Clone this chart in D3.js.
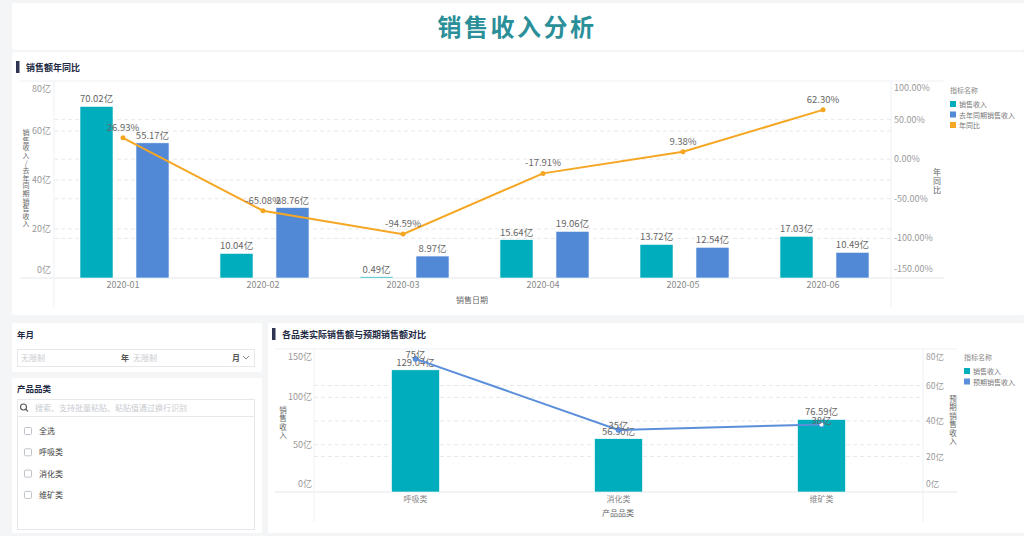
<!DOCTYPE html>
<html>
<head>
<meta charset="utf-8">
<script src="https://cdn.jsdelivr.net/npm/d3@7"></script>
<style>
  body{margin:0;background:#f3f5f7;font-family:"Noto Sans CJK SC","Noto Sans",sans-serif;}
  svg{display:block;}
</style>
</head>
<body>
<svg id="Vis" width="1024" height="536"></svg>
<script>
// top chart data
var months   = ["2020-01","2020-02","2020-03","2020-04","2020-05","2020-06"];
var sales    = [70.02, 10.04, 0.49, 15.64, 13.72, 17.03];
var lastYear = [55.17, 28.76, 8.97, 19.06, 12.54, 10.49];
var yoy      = [26.93, -65.08, -94.59, -17.91, 9.38, 62.30];
var leftTicks  = [0, 20, 40, 60, 80];
var rightTicks = [-150, -100, -50, 0, 50, 100];

// bottom chart data
var cats      = ["呼吸类","消化类","维矿类"];
var catSales  = [129.04, 56.30, 76.59];
var catPlan   = [75, 35, 38];
var catLeftTicks  = [0, 50, 100, 150];
var catRightTicks = [0, 20, 40, 60, 80];

var checkItems = ["全选","呼吸类","消化类","维矿类"];

var teal="#00adbc", blue="#5289d6", orange="#f5a623", lineBlue="#5b8fda";
var labelColor="#666", tickColor="#999", gridColor="#e9e9e9";

var svg = d3.select("#Vis");
var fmt2 = function(v){ return d3.format(".2f")(v).replace("\u2212","-"); };

// panels
function panel(x,y,w,h){
  svg.append("rect").attr("x",x).attr("y",y).attr("width",w).attr("height",h)
     .attr("rx",2).attr("fill","#fff");
}
panel(12,3,1012,47);
panel(12,52,1012,263);
panel(12,323,250,49);
panel(12,378,250,155);
panel(268,323,756,210);

svg.append("text").attr("x",517).attr("y",36).attr("text-anchor","middle")
   .attr("font-size",24).attr("font-weight","bold").attr("letter-spacing",2.5)
   .attr("fill","#2a8f98").text("销售收入分析");

function header(x,y,txt){
  svg.append("rect").attr("x",x).attr("y",y-6).attr("width",3.5).attr("height",12).attr("fill","#2e3552");
  svg.append("text").attr("x",x+10).attr("y",y+3.5).attr("font-size",9).attr("font-weight","bold")
     .attr("fill","#1f2a44").text(txt);
}
header(16,67,"销售额年同比");
header(272,334,"各品类实际销售额与预期销售额对比");

// vertical axis titles, one char under the other
function vertText(x,y0,txt,step,size){
  svg.append("text").attr("x",x).attr("y",y0).attr("font-size",size).attr("fill",labelColor)
     .style("writing-mode","vertical-rl").style("text-orientation","upright")
     .attr("letter-spacing",step-size).text(txt);
}

function legend(x,y,items){
  svg.append("text").attr("x",x).attr("y",y).attr("font-size",7).attr("fill","#888").text("指标名称");
  items.forEach(function(it,i){
    svg.append("rect").attr("x",x).attr("y",y+8+i*10.5).attr("width",6).attr("height",6).attr("fill",it[1]);
    svg.append("text").attr("x",x+9).attr("y",y+14+i*10.5).attr("font-size",7).attr("fill","#777").text(it[0]);
  });
}
function clampY(y,lo,hi){ return Math.max(lo,Math.min(hi,y)); }

// ===== top chart =====
var xTop = d3.scaleBand().domain(months).range([53,893]);
var xSub = d3.scaleBand().domain(["s","l"]).range([-43,46]).paddingInner(0.41);
var yL = d3.scaleLinear().domain([0,80]).range([278,82]);
var yR = d3.scaleLinear().domain([-150,100]).range([278,80]);
var gTop = svg.append("g");

// grid
[20,40,60].forEach(function(t){
  gTop.append("line").attr("x1",54).attr("x2",891).attr("y1",yL(t)).attr("y2",yL(t))
     .attr("stroke",gridColor).attr("stroke-dasharray","4,3");
});
[-100,-50,0,50].forEach(function(t){
  gTop.append("line").attr("x1",54).attr("x2",891).attr("y1",yR(t)).attr("y2",yR(t))
     .attr("stroke",gridColor).attr("stroke-dasharray","4,3");
});
gTop.append("line").attr("x1",20).attr("x2",944).attr("y1",81).attr("y2",81).attr("stroke","#eef0f2");
gTop.append("line").attr("x1",20).attr("x2",944).attr("y1",278).attr("y2",278).attr("stroke","#e4e8ec");
[54,891].forEach(function(x){
  gTop.append("line").attr("x1",x).attr("x2",x).attr("y1",81).attr("y2",307).attr("stroke","#eef0f2");
});

// tick labels (kept inside the plot area like the original)
leftTicks.forEach(function(t){
  gTop.append("text").attr("x",51).attr("y",clampY(yL(t),89,270)+3).attr("text-anchor","end")
     .attr("font-size",9).attr("fill",tickColor).text(t+"亿");
});
rightTicks.forEach(function(t){
  gTop.append("text").attr("x",894).attr("y",clampY(yR(t),88,269)+3)
     .attr("font-size",9).attr("fill",tickColor).text(fmt2(t)+"%");
});

var groups = gTop.selectAll("g.grp").data(months).enter().append("g")
   .attr("transform",function(d){ return "translate("+(xTop(d)+xTop.bandwidth()/2)+",0)"; });
groups.append("rect").attr("x",xSub("s")).attr("width",xSub.bandwidth())
   .attr("y",function(d,i){return yL(sales[i]);}).attr("height",function(d,i){return 278-yL(sales[i]);})
   .attr("fill",teal).attr("stroke","#fff").attr("stroke-width",0.6);
groups.append("rect").attr("x",xSub("l")).attr("width",xSub.bandwidth())
   .attr("y",function(d,i){return yL(lastYear[i]);}).attr("height",function(d,i){return 278-yL(lastYear[i]);})
   .attr("fill",blue).attr("stroke","#fff").attr("stroke-width",0.6);
groups.append("text").attr("x",xSub("s")+xSub.bandwidth()/2).attr("y",function(d,i){return yL(sales[i])-4;})
   .attr("text-anchor","middle").attr("font-size",9.5).attr("fill",labelColor)
   .text(function(d,i){return fmt2(sales[i])+"亿";});
groups.append("text").attr("x",xSub("l")+xSub.bandwidth()/2).attr("y",function(d,i){return yL(lastYear[i])-4;})
   .attr("text-anchor","middle").attr("font-size",9.5).attr("fill",labelColor)
   .text(function(d,i){return fmt2(lastYear[i])+"亿";});
groups.append("text").attr("y",288).attr("text-anchor","middle").attr("font-size",9)
   .attr("fill","#888").text(function(d){return d;});

var yoyLine = d3.line().x(function(d,i){return xTop(months[i])+xTop.bandwidth()/2;}).y(function(d){return yR(d);});
gTop.append("path").datum(yoy).attr("d",yoyLine).attr("fill","none").attr("stroke",orange).attr("stroke-width",2);
gTop.selectAll("circle.yoy").data(yoy).enter().append("circle")
   .attr("cx",function(d,i){return xTop(months[i])+xTop.bandwidth()/2;}).attr("cy",function(d){return yR(d);})
   .attr("r",2.5).attr("fill",orange);
gTop.selectAll("text.yoy").data(yoy).enter().append("text")
   .attr("x",function(d,i){return xTop(months[i])+xTop.bandwidth()/2;}).attr("y",function(d){return yR(d)-7;})
   .attr("text-anchor","middle").attr("font-size",9.5).attr("fill",labelColor)
   .text(function(d){return fmt2(d)+"%";});

gTop.append("text").attr("x",472).attr("y",303).attr("text-anchor","middle").attr("font-size",8)
   .attr("fill",labelColor).text("销售日期");
vertText(26,129,"销售收入/去年同期销售收入",7.6,7);
vertText(937,168,"年同比",9,8);
legend(950,93,[["销售收入",teal],["去年同期销售收入",blue],["年同比",orange]]);

// ===== bottom chart =====
var xB = d3.scaleBand().domain(cats).range([314,923]);
var barW = xB.step()*0.236;
var yBL = d3.scaleLinear().domain([0,150]).range([492,350]);
var yBR = d3.scaleLinear().domain([0,80]).range([492,350]);
var bot = svg.append("g");

[50,100].forEach(function(t){
  bot.append("line").attr("x1",314).attr("x2",923).attr("y1",yBL(t)).attr("y2",yBL(t))
     .attr("stroke",gridColor).attr("stroke-dasharray","4,3");
});
[20,40,60].forEach(function(t){
  bot.append("line").attr("x1",314).attr("x2",923).attr("y1",yBR(t)).attr("y2",yBR(t))
     .attr("stroke",gridColor).attr("stroke-dasharray","4,3");
});
bot.append("line").attr("x1",275).attr("x2",957).attr("y1",349).attr("y2",349).attr("stroke","#eef0f2");
bot.append("line").attr("x1",275).attr("x2",957).attr("y1",492).attr("y2",492).attr("stroke","#e4e8ec");
[314,923].forEach(function(x){
  bot.append("line").attr("x1",x).attr("x2",x).attr("y1",349).attr("y2",522).attr("stroke","#eef0f2");
});
catLeftTicks.forEach(function(t){
  bot.append("text").attr("x",312).attr("y",clampY(yBL(t),357,484)+3).attr("text-anchor","end")
     .attr("font-size",9).attr("fill",tickColor).text(t+"亿");
});
catRightTicks.forEach(function(t){
  bot.append("text").attr("x",926).attr("y",clampY(yBR(t),357,484)+3)
     .attr("font-size",8.5).attr("fill",tickColor).text(t+"亿");
});

bot.selectAll("rect.bar").data(catSales).enter().append("rect")
   .attr("x",function(d,i){return xB(cats[i])+(xB.step()-barW)/2;}).attr("width",barW)
   .attr("y",function(d){return yBL(d);}).attr("height",function(d){return 492-yBL(d);})
   .attr("fill",teal).attr("stroke","#fff").attr("stroke-width",0.6);
bot.selectAll("text.bar").data(catSales).enter().append("text")
   .attr("x",function(d,i){return xB(cats[i])+xB.step()/2;}).attr("y",function(d){return yBL(d)-4;})
   .attr("text-anchor","middle").attr("font-size",9.5).attr("fill",labelColor)
   .text(function(d){return fmt2(d)+"亿";});
bot.selectAll("text.cat").data(cats).enter().append("text")
   .attr("x",function(d){return xB(d)+xB.step()/2;}).attr("y",502)
   .attr("text-anchor","middle").attr("font-size",8).attr("fill","#888").text(function(d){return d;});

var planLine = d3.line().x(function(d,i){return xB(cats[i])+xB.step()/2;}).y(function(d){return yBR(d);});
bot.append("path").datum(catPlan).attr("d",planLine).attr("fill","none").attr("stroke",lineBlue).attr("stroke-width",2);
bot.selectAll("circle.plan").data(catPlan).enter().append("circle")
   .attr("cx",function(d,i){return xB(cats[i])+xB.step()/2;}).attr("cy",function(d){return yBR(d);})
   .attr("r",2.5).attr("fill",function(d,i){return i==2?"#fff":lineBlue;}).attr("stroke",lineBlue);
bot.selectAll("text.plan").data(catPlan).enter().append("text")
   .attr("x",function(d,i){return xB(cats[i])+xB.step()/2;}).attr("y",function(d){return yBR(d)-1;})
   .attr("text-anchor","middle").attr("font-size",9.5).attr("fill",labelColor)
   .text(function(d){return d+"亿";});

bot.append("text").attr("x",618).attr("y",516).attr("text-anchor","middle").attr("font-size",8)
   .attr("fill",labelColor).text("产品品类");
vertText(283,406,"销售收入",8.5,7.5);
vertText(953,395,"预期销售收入",8.5,7.5);
legend(964,360,[["销售收入",teal],["预期销售收入",lineBlue]]);

// ===== filter panels =====
var fp = svg.append("g").attr("font-size",8);
fp.append("text").attr("x",17).attr("y",338).attr("font-weight","bold").attr("font-size",8.5).attr("fill","#1f2a44").text("年月");
fp.append("rect").attr("x",17.5).attr("y",349.5).attr("width",237).attr("height",17).attr("fill","#fff").attr("stroke","#e6e8eb");
fp.append("text").attr("x",21).attr("y",361).attr("fill","#c8cbd0").text("无限制");
fp.append("text").attr("x",121).attr("y",361).attr("fill","#555").attr("font-weight","bold").text("年");
fp.append("text").attr("x",133).attr("y",361).attr("fill","#c8cbd0").text("无限制");
fp.append("text").attr("x",232).attr("y",361).attr("fill","#555").attr("font-weight","bold").text("月");
fp.append("path").attr("d","M243,356 L246,359 L249,356").attr("fill","none").attr("stroke","#888");

fp.append("text").attr("x",17).attr("y",392).attr("font-weight","bold").attr("font-size",8.5).attr("fill","#1f2a44").text("产品品类");
fp.append("rect").attr("x",17.5).attr("y",399.5).attr("width",237).attr("height",17).attr("fill","#fff").attr("stroke","#e6e8eb");
fp.append("rect").attr("x",17.5).attr("y",416.5).attr("width",237).attr("height",113).attr("fill","#fff").attr("stroke","#e6e8eb");
fp.append("circle").attr("cx",23.5).attr("cy",407).attr("r",3).attr("fill","none").attr("stroke","#555").attr("stroke-width",1.1);
fp.append("line").attr("x1",25.7).attr("y1",409.2).attr("x2",28).attr("y2",411.5).attr("stroke","#555").attr("stroke-width",1.1);
fp.append("text").attr("x",35).attr("y",411).attr("fill","#c8cbd0").text("搜索、支持批量粘贴、粘贴值通过换行识别");
checkItems.forEach(function(c,i){
  var y=431+i*21.3;
  fp.append("rect").attr("x",24.5).attr("y",y-3.5).attr("width",7).attr("height",7).attr("rx",1)
    .attr("fill","#fff").attr("stroke","#bfc3c9");
  fp.append("text").attr("x",39).attr("y",y+3).attr("fill","#444").text(c);
});
</script>
</body>
</html>
